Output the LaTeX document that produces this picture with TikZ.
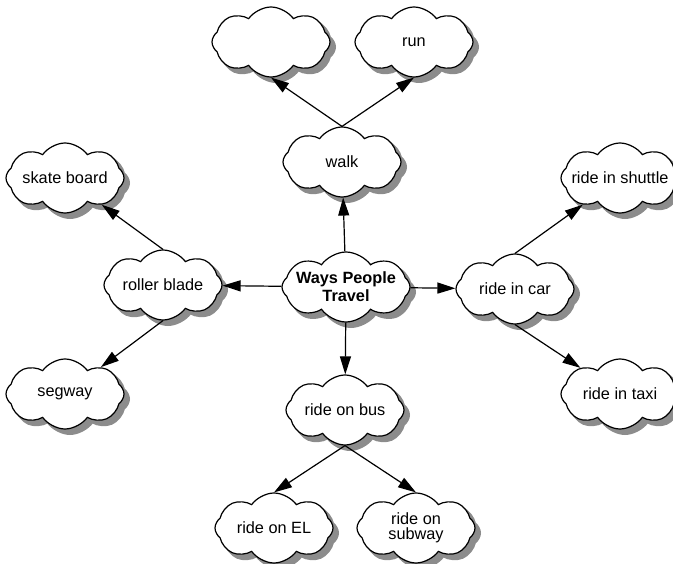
\documentclass[tikz,border=0pt]{standalone}
\usepackage{fontspec}
\setmainfont{Liberation Sans}
\usetikzlibrary{shapes.symbols,arrows.meta}
\definecolor{shadowgray}{RGB}{140,140,140}
\begin{document}
\begin{tikzpicture}[x=1pt,y=-1pt,
  cloudbase/.style={cloud, cloud puffs=8, cloud puff arc=110, cloud ignores aspect,
    line width=1.2pt, minimum width=118pt, minimum height=70pt, inner sep=0pt},
  cl/.style={cloudbase, draw=black, fill=white,
    font=\fontsize{16.3}{19.5}\selectfont, align=center},
  clshadow/.style={cloudbase, draw=shadowgray, fill=shadowgray, line width=2pt},
  arr/.style={line width=1.2pt, -{Triangle[length=18pt,width=11pt]}}]
\useasboundingbox (0,0) rectangle (673,564);
\node[clshadow] (sh-e1) at (276,47) {};
\node[clshadow] (sh-run) at (419,47) {};
\node[clshadow] (sh-walk) at (347,167) {};
\node[clshadow] (sh-skate) at (70,183) {};
\node[clshadow] (sh-shuttle) at (625,183) {};
\node[clshadow] (sh-roller) at (168,290) {};
\node[clshadow, minimum width=128pt] (sh-ways) at (351,292) {};
\node[clshadow] (sh-car) at (520,294) {};
\node[clshadow] (sh-segway) at (70,399) {};
\node[clshadow] (sh-bus) at (350,415) {};
\node[clshadow] (sh-taxi) at (625,399) {};
\node[clshadow] (sh-el) at (279,533) {};
\node[clshadow] (sh-subway) at (421,533) {};
\node[cl] (e1) at (271,42) {};
\node[cl] (run) at (414,42) {\makebox[0pt]{run}};
\node[cl] (walk) at (342,162) {\makebox[0pt]{walk}};
\node[cl] (skate) at (65,178) {\makebox[0pt]{skate board}};
\node[cl] (shuttle) at (620,178) {\makebox[0pt]{ride in shuttle}};
\node[cl] (roller) at (163,285) {\makebox[0pt]{roller blade}};
\node[cl, minimum width=128pt] (ways) at (346,287) {\makebox[0pt]{\bfseries\shortstack{Ways People\\Travel}}};
\node[cl] (car) at (515,289) {\makebox[0pt]{ride in car}};
\node[cl] (segway) at (65,394) {\makebox[0pt]{segway}};
\node[cl] (bus) at (345,410) {\makebox[0pt]{ride on bus}};
\node[cl] (taxi) at (620,394) {\makebox[0pt]{ride in taxi}};
\node[cl] (el) at (274,528) {\makebox[0pt]{ride on EL}};
\node[cl] (subway) at (416,528) {\makebox[0pt]{\shortstack{ride on\\subway}}};
\draw[arr] (ways) -- (walk);
\draw[arr] (ways) -- (roller);
\draw[arr] (ways) -- (car);
\draw[arr] (ways) -- (bus);
\draw[arr] (walk.north) -- (e1.south);
\draw[arr] (walk.north) -- (run.south);
\draw[arr] (roller.north) -- (skate);
\draw[arr] (roller.south) -- (segway);
\draw[arr] (car.north) -- (shuttle);
\draw[arr] (car.south) -- (taxi);
\draw[arr] (bus.south) -- (el.north);
\draw[arr] (bus.south) -- (subway.north);
\end{tikzpicture}
\end{document}
